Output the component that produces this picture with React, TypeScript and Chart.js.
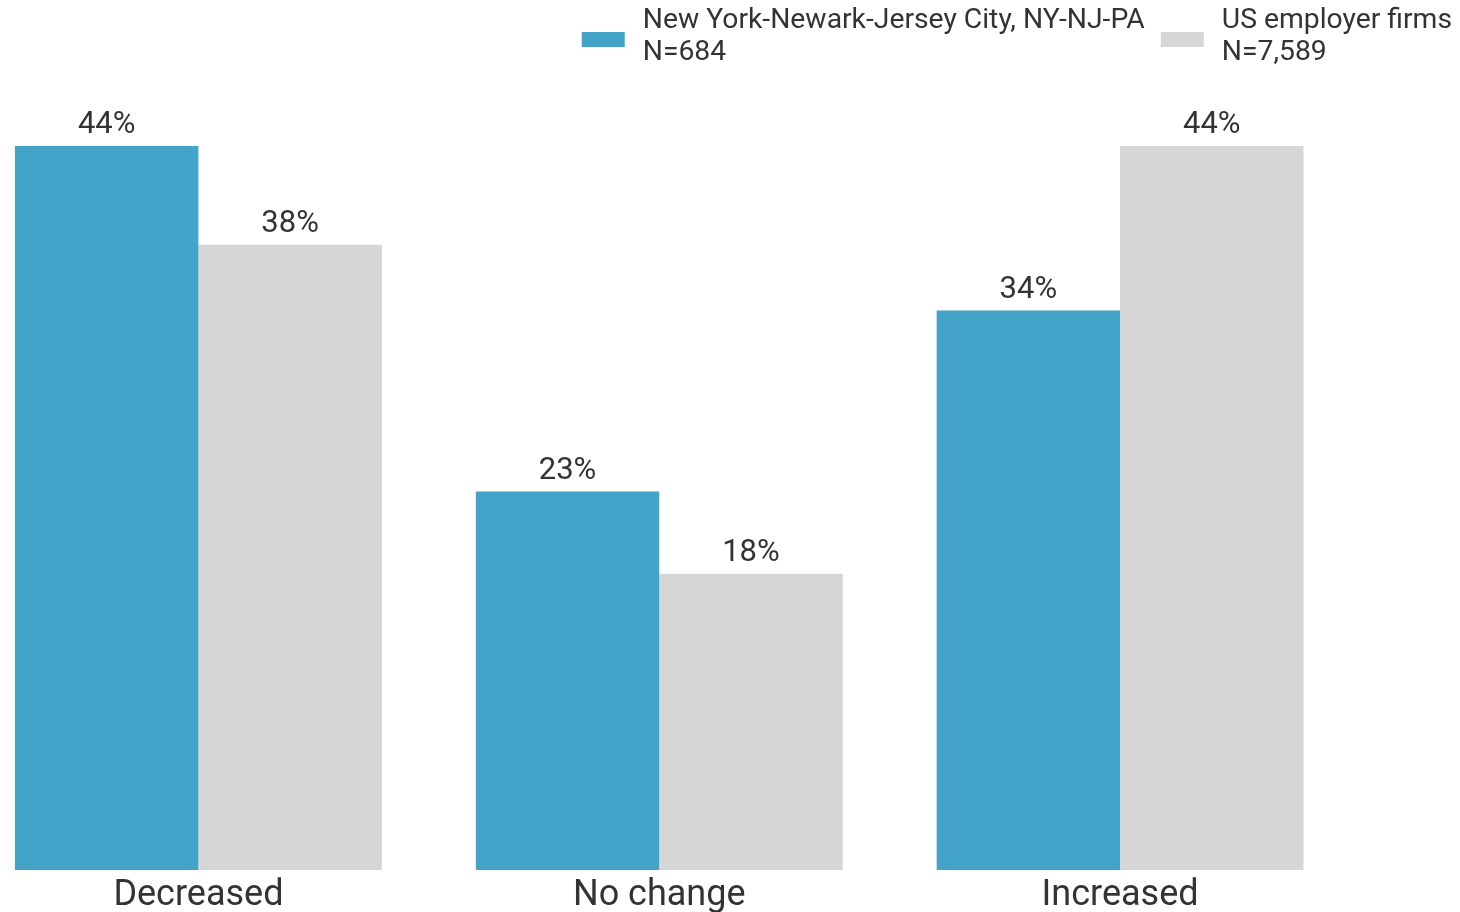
import React, { useEffect, useRef } from "react";
import { Chart, registerables } from "chart.js";

Chart.register(...registerables);

const categories = ["Decreased", "No change", "Increased"];
const nyValues = [44, 23, 34];
const usValues = [38, 18, 44];
const seriesNames = ["New York-Newark-Jersey City, NY-NJ-PA", "US employer firms"];
const seriesCounts = ["N=684", "N=7,589"];
const seriesColors = ["#43a3c8", "#d6d6d6"];

const TEXT_COLOR = "#333333";
const FONT_FAMILY = "Roboto, 'Noto Sans', sans-serif";
const OFFSET_X = 32;

const valueLabelPlugin = {
  id: "valueLabels",
  afterDatasetsDraw(chart: any) {
    const ctx = chart.ctx;
    ctx.save();
    ctx.font = `31px ${FONT_FAMILY}`;
    ctx.fillStyle = TEXT_COLOR;
    ctx.textAlign = "center";
    ctx.textBaseline = "alphabetic";
    chart.data.datasets.forEach((ds: any, di: number) => {
      const meta = chart.getDatasetMeta(di);
      meta.data.forEach((el: any, i: number) => {
        ctx.fillText(`${ds.data[i]}%`, el.x, el.y - 13);
      });
    });
    ctx.restore();
  },
};

const legendPlugin = {
  id: "customLegend",
  afterDraw(chart: any) {
    const ctx = chart.ctx;
    ctx.save();
    ctx.font = `28.3px ${FONT_FAMILY}`;
    const boxW = 43;
    const boxH = 15;
    const gap = 18;
    const spacing = 16;
    const widths = seriesNames.map((n, i) =>
      boxW + gap + Math.max(ctx.measureText(n).width, ctx.measureText(seriesCounts[i]).width)
    );
    const total = widths.reduce((a, b) => a + b, 0) + spacing * (widths.length - 1);
    let x = OFFSET_X + 1452 - total;
    seriesNames.forEach((name, i) => {
      ctx.fillStyle = seriesColors[i];
      ctx.fillRect(x, 32, boxW, boxH);
      ctx.fillStyle = TEXT_COLOR;
      ctx.textAlign = "left";
      ctx.textBaseline = "alphabetic";
      ctx.fillText(name, x + boxW + gap, 28);
      ctx.fillText(seriesCounts[i], x + boxW + gap, 60);
      x += widths[i] + spacing;
    });
    ctx.restore();
  },
};

export default function App() {
  const canvasRef = useRef<HTMLCanvasElement | null>(null);

  useEffect(() => {
    if (!canvasRef.current) return;
    const chart = new Chart(canvasRef.current, {
      type: "bar",
      data: {
        labels: categories,
        datasets: [
          {
            label: seriesNames[0],
            data: nyValues,
            backgroundColor: seriesColors[0],
            borderWidth: 0,
            categoryPercentage: 0.796,
            barPercentage: 1.0,
          },
          {
            label: seriesNames[1],
            data: usValues,
            backgroundColor: seriesColors[1],
            borderWidth: 0,
            categoryPercentage: 0.796,
            barPercentage: 1.0,
          },
        ],
      },
      options: {
        responsive: false,
        animation: false,
        layout: { padding: { left: 0, right: 109.5, top: 47.3, bottom: 0 } },
        plugins: {
          legend: { display: false },
          tooltip: { enabled: false },
        },
        scales: {
          x: {
            grid: { display: false, drawTicks: false },
            border: { display: false },
            afterFit: (scale: any) => {
              scale.height = 42;
            },
            ticks: {
              padding: 10,
              color: TEXT_COLOR,
              font: { family: FONT_FAMILY, size: 36, lineHeight: 0.889 },
            },
          },
          y: {
            display: false,
            min: 0,
            max: 50,
          },
        },
      },
      plugins: [valueLabelPlugin, legendPlugin],
    });
    return () => chart.destroy();
  }, []);

  return (
    <div style={{ position: "fixed", left: -OFFSET_X, top: 0, width: 1460 + OFFSET_X, height: 912, background: "#fff" }}>
      <canvas ref={canvasRef} width={1460 + OFFSET_X} height={912} />
    </div>
  );
}
